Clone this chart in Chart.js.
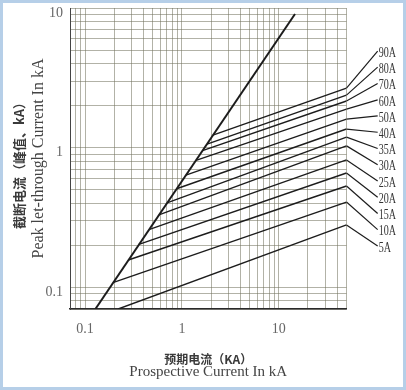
<!DOCTYPE html>
<html>
<head>
<meta charset="utf-8">
<script src="https://cdn.jsdelivr.net/npm/chart.js@4"></script>
<style>
  html, body { margin: 0; padding: 0; background: #fff; }
  #wrap {
    width: 406px; height: 390px; box-sizing: border-box;
    border: 3px solid #b6cfe8; background: #fff;
  }
  canvas { display: block; }
</style>
</head>
<body>
<div id="wrap"><canvas id="cutoff" width="400" height="384"></canvas></div>
<script>
// fuse ratings, bottom to top
const ratings = ["5A", "10A", "15A", "20A", "25A", "30A", "35A", "40A", "50A", "60A", "70A", "80A", "90A"];
// where each curve leaves the diagonal (prospective kA / peak kA)
const startCurrent = [0.22, 0.194, 0.28, 0.36, 0.457, 0.579, 0.702, 0.883, 1.1, 1.4, 1.63, 1.82, 2.09];
const startPeak = [0.07, 0.108, 0.157, 0.203, 0.259, 0.33, 0.402, 0.508, 0.637, 0.812, 0.953, 1.06, 1.23];
// peak at the right edge (50 kA)
const endCurrent = 50;
const endPeak = [0.28, 0.408, 0.532, 0.659, 0.817, 1.03, 1.19, 1.36, 1.6, 1.89, 2.16, 2.38, 2.67];
// leader line ends next to the labels
const leaderCurrent = 100;
const labelPeak = [0.198, 0.259, 0.338, 0.442, 0.577, 0.755, 0.987, 1.29, 1.69, 2.2, 2.88, 3.77, 4.92];

// the steep line
const diagCurrent = [0.128, 14.7];
const diagPeak = [0.07, 9.06];

const xTickLabels = [0.1, 1, 10];
const yTickLabels = [0.1, 1, 10];
const xMin = 0.07, xMax = 50;
const yMin = 0.07, yMax = 10;

function logGrid(min, max) {
  const vals = [];
  for (let e = -2; e <= 2; e++) {
    for (let m = 1; m <= 9; m++) {
      const v = Number((m * Math.pow(10, e)).toPrecision(3));
      if (v >= min - 1e-9 && v <= max + 1e-9) vals.push(v);
    }
  }
  return vals;
}

function isLabel(list, v) {
  return list.some(l => Math.abs(l - v) < 1e-9);
}

const lineColor = "#1c1c1c";

const datasets = [{
  label: "diagonal",
  data: diagCurrent.map((x, i) => ({ x: x, y: diagPeak[i] })),
  borderColor: lineColor,
  borderWidth: 2,
  pointRadius: 0,
}];

ratings.forEach((r, i) => {
  datasets.push({
    label: r,
    data: [
      { x: startCurrent[i], y: startPeak[i] },
      { x: endCurrent, y: endPeak[i] },
    ],
    borderColor: lineColor,
    borderWidth: 1.4,
    pointRadius: 0,
  });
});

const textPlugin = {
  id: "texts",
  afterDraw(chart) {
    const ctx = chart.ctx;
    const a = chart.chartArea;
    const xs = chart.scales.x;
    const ys = chart.scales.y;
    const cx = (a.left + a.right) / 2;
    const cy = (a.top + a.bottom) / 2;
    ctx.save();
    ctx.textAlign = "center";
    ctx.textBaseline = "middle";

    // y title
    ctx.save();
    ctx.translate(a.left - 51, cy + 4);
    ctx.rotate(-Math.PI / 2);
    ctx.fillStyle = "#3a3a3a";
    ctx.font = 'bold 13px "Noto Sans CJK SC"';
    ctx.fillText("截断电流（峰值、kA）", 0, 0);
    ctx.restore();

    ctx.save();
    ctx.translate(a.left - 31, cy);
    ctx.rotate(-Math.PI / 2);
    ctx.fillStyle = "#444";
    ctx.font = '16px "Liberation Serif"';
    ctx.fillText("Peak let-through Current In kA", 0, 0);
    ctx.restore();

    // x title
    ctx.fillStyle = "#3a3a3a";
    ctx.font = 'bold 12px "Noto Sans CJK SC"';
    ctx.fillText("预期电流（KA）", cx, a.bottom + 50);
    ctx.fillStyle = "#444";
    ctx.font = '15px "Liberation Serif"';
    ctx.fillText("Prospective Current In kA", cx, a.bottom + 63);

    // leader lines and fuse labels
    ctx.strokeStyle = lineColor;
    ctx.lineWidth = 1.2;
    ctx.fillStyle = "#333";
    ctx.font = '14px "Liberation Serif"';
    ctx.textAlign = "left";
    ratings.forEach((r, i) => {
      const x0 = xs.getPixelForValue(endCurrent);
      const y0 = ys.getPixelForValue(endPeak[i]);
      const x1 = xs.getPixelForValue(leaderCurrent) + 2;
      const y1 = ys.getPixelForValue(labelPeak[i]);
      ctx.beginPath();
      ctx.moveTo(x0, y0);
      ctx.lineTo(x1, y1);
      ctx.stroke();
      ctx.save();
      ctx.translate(x1 + 1, y1 + 2);
      ctx.scale(0.72, 1);
      ctx.fillText(r, 0, 0);
      ctx.restore();
    });
    ctx.restore();
  },
};

const gridColor = "rgba(115,115,95,0.55)";

new Chart(document.getElementById("cutoff").getContext("2d"), {
  type: "line",
  data: { datasets: datasets },
  options: {
    responsive: false,
    animation: false,
    layout: { padding: { top: 5, right: 56.5, left: 0, bottom: 0 } },
    plugins: {
      legend: { display: false },
      tooltip: { enabled: false },
    },
    scales: {
      x: {
        type: "logarithmic",
        min: xMin,
        max: xMax,
        afterBuildTicks: (scale) => {
          scale.ticks = logGrid(xMin, xMax).map(v => ({ value: v }));
        },
        afterFit: (scale) => {
          scale.height = 78;
          scale.paddingLeft = 0;
          scale.paddingRight = 0;
        },
        ticks: {
          autoSkip: false,
          maxRotation: 0,
          padding: 12,
          color: "#666",
          font: { family: "Liberation Serif", size: 14 },
          callback: (v) => isLabel(xTickLabels, v) ? String(v) : "",
        },
        grid: { color: gridColor, lineWidth: 1, drawTicks: false },
        border: { color: "#2a2a2a", width: 1.5 },
      },
      y: {
        type: "logarithmic",
        min: yMin,
        max: yMax,
        afterBuildTicks: (scale) => {
          scale.ticks = logGrid(yMin, yMax).map(v => ({ value: v }));
        },
        afterFit: (scale) => {
          scale.width = 67;
          scale.paddingTop = 0;
          scale.paddingBottom = 0;
        },
        ticks: {
          autoSkip: false,
          padding: 7,
          labelOffset: 5,
          color: "#666",
          font: { family: "Liberation Serif", size: 14 },
          callback: (v) => isLabel(yTickLabels, v) ? String(v) : "",
        },
        grid: { color: gridColor, lineWidth: 1, drawTicks: false },
        border: { color: "#444", width: 1 },
      },
    },
  },
  plugins: [textPlugin],
});
</script>
</body>
</html>
